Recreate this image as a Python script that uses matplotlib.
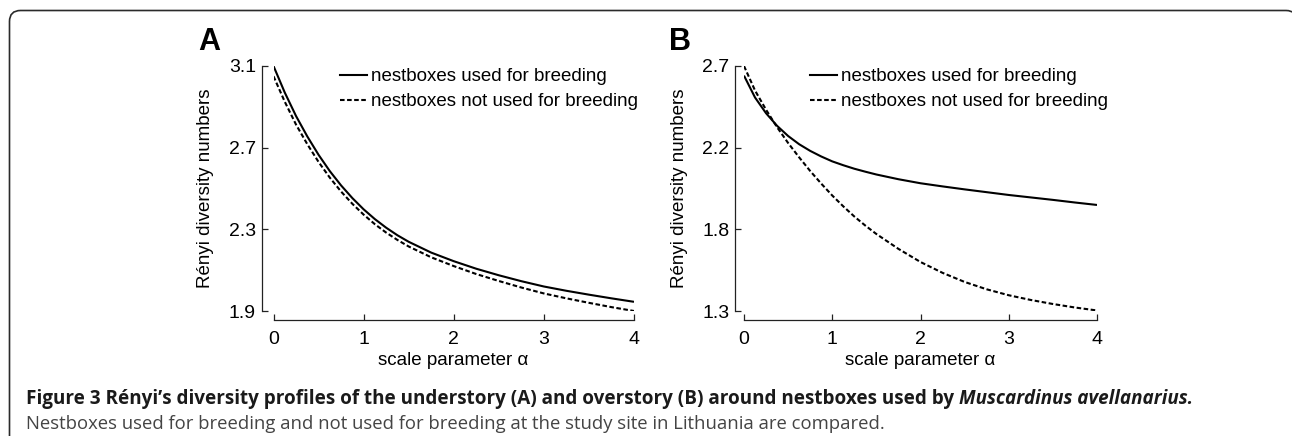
import matplotlib
matplotlib.use('Agg')
import matplotlib.pyplot as plt
from matplotlib.patches import PathPatch
from matplotlib.path import Path
from matplotlib.lines import Line2D
from matplotlib.transforms import IdentityTransform
import numpy as np

# ---------------- data ----------------
alpha = [0, 0.125, 0.25, 0.375, 0.5, 0.625, 0.75, 0.875, 1, 1.125, 1.25, 1.375,
         1.5, 1.75, 2, 2.25, 2.5, 2.75, 3, 3.25, 3.5, 3.75, 4]
a_breed = [3.100, 2.970, 2.855, 2.755, 2.665, 2.585, 2.515, 2.453, 2.398, 2.350,
           2.308, 2.271, 2.239, 2.186, 2.144, 2.107, 2.075, 2.046, 2.020, 1.999,
           1.980, 1.962, 1.945]
a_nobreed = [3.050, 2.925, 2.813, 2.717, 2.630, 2.553, 2.485, 2.425, 2.372, 2.325,
             2.284, 2.248, 2.216, 2.163, 2.120, 2.081, 2.047, 2.015, 1.986, 1.962,
             1.940, 1.919, 1.900]
b_breed = [2.645, 2.520, 2.430, 2.358, 2.300, 2.253, 2.215, 2.183, 2.155, 2.133,
           2.113, 2.096, 2.080, 2.053, 2.030, 2.012, 1.995, 1.979, 1.963, 1.949,
           1.935, 1.920, 1.906]
b_nobreed = [2.700, 2.560, 2.450, 2.350, 2.260, 2.178, 2.100, 2.028, 1.960, 1.898,
             1.840, 1.788, 1.740, 1.655, 1.580, 1.518, 1.466, 1.424, 1.390, 1.363,
             1.340, 1.320, 1.303]

x_ticks = [0, 1, 2, 3, 4]
a_yrange = (1.9, 3.1)
b_yrange = (1.3, 2.7)
series_labels = ["nestboxes used for breeding", "nestboxes not used for breeding"]
ylabel = "Rényi diversity numbers"
xlabel = "scale parameter α"
panel_letters = ["A", "B"]
caption_bold = "Figure 3 Rényi’s diversity profiles of the understory (A) and overstory (B) around nestboxes used by "
caption_italic = "Muscardinus avellanarius."
caption_line2 = "Nestboxes used for breeding and not used for breeding at the study site in Lithuania are compared."

# ---------------- figure ----------------
W, H = 1292, 436
DPI = 100
fig = plt.figure(figsize=(W / DPI, H / DPI), dpi=DPI)
plt.rcParams['font.family'] = ['Liberation Sans', 'DejaVu Sans']

def px_axes(x0, x1, y_top, y_bot):
    return fig.add_axes([x0 / W, 1 - y_bot / H, (x1 - x0) / W, (y_bot - y_top) / H])

def px2pt(p):
    return p * 72.0 / DPI

FS = 13.5
def style_axes(ax, yr, left_out_px, bottom_out_px, yticks):
    ax.set_xlim(0, 4)
    ax.set_ylim(*yr)
    for s in ['top', 'right']:
        ax.spines[s].set_visible(False)
    ax.spines['left'].set_position(('outward', px2pt(left_out_px)))
    ax.spines['bottom'].set_position(('outward', px2pt(bottom_out_px)))
    ax.spines['left'].set_bounds(*yr)
    ax.spines['bottom'].set_bounds(0, 4)
    for s in ['left', 'bottom']:
        ax.spines[s].set_linewidth(0.9)
        ax.spines[s].set_color('#222222')
    ax.set_xticks(x_ticks)
    ax.set_xticklabels([str(t) for t in x_ticks])
    ax.set_yticks(yticks)
    ax.set_yticklabels(['%.1f' % t for t in yticks])
    ax.tick_params(axis='both', direction='in', length=4.5, width=0.9,
                   color='#222222', labelsize=14)
    ax.tick_params(axis='y', pad=4.0)
    ax.tick_params(axis='x', pad=8.0)
    ax.patch.set_visible(False)

LW = 1.5
DASH = (2.2, 1.2)

# Panel A
axA = px_axes(273.5, 634, 66, 311)
axA.plot(alpha, a_breed, color='black', lw=LW, solid_capstyle='butt')
axA.plot(alpha, a_nobreed, color='black', lw=LW, dashes=DASH)
style_axes(axA, a_yrange, 12, 9, list(np.linspace(a_yrange[0], a_yrange[1], 4)))

# Panel B
axB = px_axes(744, 1097, 66, 311)
axB.plot(alpha, b_breed, color='black', lw=LW, solid_capstyle='butt')
axB.plot(alpha, b_nobreed, color='black', lw=LW, dashes=DASH)
style_axes(axB, b_yrange, 9, 9, list(np.linspace(b_yrange[0], b_yrange[1], 4)))

handles = [Line2D([], [], color='black', lw=LW),
           Line2D([], [], color='black', lw=LW, dashes=DASH)]

for ax, lx, ylx, xlx in [(axA, 340, 206, 453), (axB, 810, 680, 920)]:
    ax.legend(handles, series_labels, loc='upper left',
              bbox_to_anchor=(lx / W, 1 - 68 / H), bbox_transform=fig.transFigure,
              frameon=False, borderpad=0, borderaxespad=0, handlelength=1.45,
              handletextpad=0.2, labelspacing=0.43, fontsize=FS)
    ax.set_ylabel(ylabel, fontsize=FS)
    ax.yaxis.set_label_coords(ylx / W, 1 - 188 / H, transform=fig.transFigure)
    ax.set_xlabel(xlabel, fontsize=FS)
    ax.xaxis.set_label_coords(xlx / W, 1 - 360 / H, transform=fig.transFigure)
    ax.xaxis.label.set_va('center')
    ax.yaxis.label.set_va('center')

fig.text(198 / W, 1 - 50 / H, panel_letters[0], fontsize=22, fontweight='bold',
         ha='left', va='baseline')
fig.text(669 / W, 1 - 50 / H, panel_letters[1], fontsize=22, fontweight='bold',
         ha='left', va='baseline')

# Caption
CAP = ['Open Sans', 'DejaVu Sans']
t1 = fig.text(26 / W, 1 - 404 / H, caption_bold, fontsize=13.62, fontweight='bold',
              family=CAP, color='#1a1a1a', ha='left', va='baseline')
fig.text(26 / W, 1 - 429 / H, caption_line2, fontsize=13.35, family=CAP,
         color='#444444', ha='left', va='baseline')
r = fig.canvas.get_renderer()
bb = t1.get_window_extent(renderer=r)
fig.text(bb.x1 / W, 1 - 404 / H, caption_italic, fontsize=13.62, fontweight='bold',
         style='italic', family=CAP, color='#1a1a1a', ha='left', va='baseline')

# Frame (pixel coordinates, y measured from the bottom)
xl, xr, yt, rad = 9.5, 1297.0, H - 10.5, 11.0
verts = [(xl, -20), (xl, yt - rad), (xl, yt), (xl + rad, yt),
         (xr - rad, yt), (xr, yt), (xr, yt - rad), (xr, -20)]
codes = [Path.MOVETO, Path.LINETO, Path.CURVE3, Path.CURVE3,
         Path.LINETO, Path.CURVE3, Path.CURVE3, Path.LINETO]
frame = PathPatch(Path(verts, codes), transform=IdentityTransform(), fill=False,
                  edgecolor='#2a2a2a', lw=1.2)
fig.add_artist(frame)

fig.savefig('out.png', dpi=DPI)
